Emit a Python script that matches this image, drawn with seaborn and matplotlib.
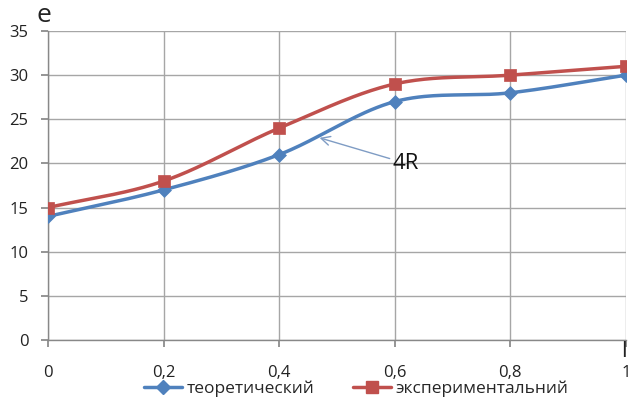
import numpy as np
import pandas as pd
import matplotlib
matplotlib.use("Agg")
import matplotlib.pyplot as plt
from matplotlib.lines import Line2D
import seaborn as sns

x_vals = [0, 0.2, 0.4, 0.6, 0.8, 1.0]
theoretical = [14, 17, 21, 27, 28, 30]
experimental = [15, 18, 24, 29, 30, 31]
x_tick_labels = ["0", "0,2", "0,4", "0,6", "0,8", "1"]
y_ticks = [0, 5, 10, 15, 20, 25, 30, 35]

BLUE = "#4F81BD"
RED = "#C0504D"

sns.set_theme(style="white")
plt.rcParams["font.family"] = ["Open Sans", "DejaVu Sans"]


def smooth(xs, ys, n=40, tension=0.5):
    """Cardinal spline through the points, like a spreadsheet's smoothed line."""
    xs = np.asarray(xs, float)
    ys = np.asarray(ys, float)
    px = np.concatenate([[2 * xs[0] - xs[1]], xs, [2 * xs[-1] - xs[-2]]])
    py = np.concatenate([[2 * ys[0] - ys[1]], ys, [2 * ys[-1] - ys[-2]]])
    out_x, out_y = [], []
    t = np.linspace(0, 1, n)
    for i in range(1, len(px) - 2):
        m1x = tension * (px[i + 1] - px[i - 1])
        m1y = tension * (py[i + 1] - py[i - 1])
        m2x = tension * (px[i + 2] - px[i])
        m2y = tension * (py[i + 2] - py[i])
        h00 = 2 * t**3 - 3 * t**2 + 1
        h10 = t**3 - 2 * t**2 + t
        h01 = -2 * t**3 + 3 * t**2
        h11 = t**3 - t**2
        out_x.extend(h00 * px[i] + h10 * m1x + h01 * px[i + 1] + h11 * m2x)
        out_y.extend(h00 * py[i] + h10 * m1y + h01 * py[i + 1] + h11 * m2y)
    return np.array(out_x), np.array(out_y)


fig = plt.figure(figsize=(6.36, 4.0), dpi=100)
ax = fig.add_axes([0.0755, 0.15, 0.9085, 0.7725])

for ys, color, marker, ms in [
    (theoretical, BLUE, "D", 50),
    (experimental, RED, "s", 85),
]:
    sx, sy = smooth(x_vals, ys)
    curve = pd.DataFrame({"x": sx, "y": sy})
    sns.lineplot(data=curve, x="x", y="y", ax=ax, color=color, linewidth=2.5,
                 sort=False, zorder=3)
    pts = pd.DataFrame({"x": x_vals, "y": ys})
    sns.scatterplot(data=pts, x="x", y="y", ax=ax, color=color, marker=marker,
                    s=ms, edgecolor=color, linewidth=0.5, zorder=4)

ax.set_xlim(0, 1)
ax.set_ylim(0, 35)
ax.set_xticks(x_vals)
ax.set_xticklabels(x_tick_labels)
ax.set_yticks(y_ticks)
ax.grid(True, color="#A6A6A6", linewidth=1.0)
ax.set_axisbelow(True)
for side in ["top", "right"]:
    ax.spines[side].set_visible(False)
for side in ["left", "bottom"]:
    ax.spines[side].set_color("#888888")
    ax.spines[side].set_linewidth(1.0)
ax.tick_params(axis="both", which="both", length=5, color="#888888",
               labelsize=12, labelcolor="#222222", direction="out",
               bottom=True, left=True)
ax.tick_params(axis="x", pad=13)
ax.tick_params(axis="y", pad=9)
ax.set_xlabel("")
ax.set_ylabel("")

# axis names
fig.text(0.058, 0.93, "e", fontsize=19, color="#222222", ha="left", va="bottom")
fig.text(0.977, 0.095, "l", fontsize=16, color="#222222", ha="left", va="bottom")

# callout
ax.annotate("4R", xy=(0.47, 22.9), xytext=(0.597, 20.0),
            fontsize=16, color="#111111", va="center", ha="left",
            arrowprops=dict(arrowstyle="->", color="#7F9CC4", lw=1.0,
                            shrinkA=0, shrinkB=0))

handles = [
    Line2D([0], [0], color=BLUE, lw=2.5, marker="D", markersize=7),
    Line2D([0], [0], color=RED, lw=2.5, marker="s", markersize=9),
]
fig.legend(handles, ["теоретический", "экспериментальний"], loc="center",
           bbox_to_anchor=(0.56, 0.028), ncol=2, frameon=False, fontsize=12.5,
           handlelength=2.2, handletextpad=0.25, columnspacing=2.2)

fig.savefig("out.png", dpi=100)
